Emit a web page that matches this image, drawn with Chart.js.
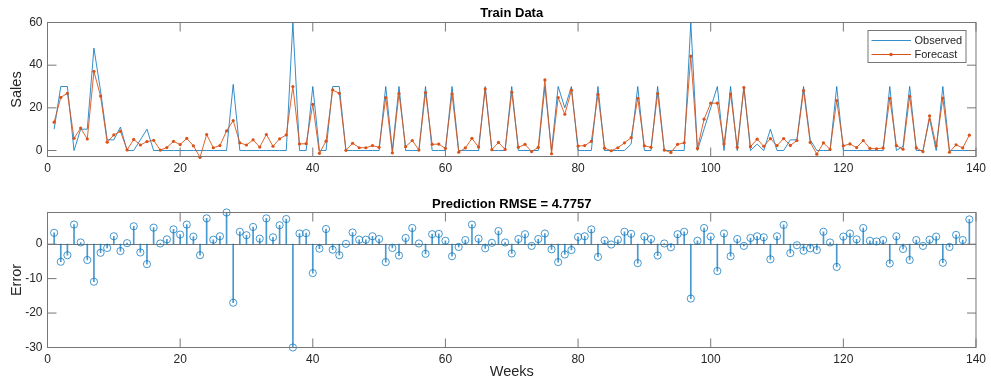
<!DOCTYPE html>
<html>
<head>
<meta charset="utf-8">
<script src="https://cdn.jsdelivr.net/npm/chart.js@4.4.1/dist/chart.umd.min.js"></script>
<style>
  html, body { margin: 0; padding: 0; background: #ffffff; }
  #wrap { position: relative; width: 991px; height: 385px; overflow: hidden; }
  .pane { position: absolute; left: 0; width: 991px; }
  #paneTop { top: 0; height: 185px; }
  #paneBottom { top: 185px; height: 200px; }
</style>
</head>
<body>
<div id="wrap">
  <div class="pane" id="paneTop"><canvas id="trainChart"></canvas></div>
  <div class="pane" id="paneBottom"><canvas id="errorChart"></canvas></div>
</div>
<script>
// ---- data ----
const weeks = Array.from({ length: 139 }, (_, i) => i + 1);

const observed = [
  10, 30, 30, 0, 10, 10, 48, 28, 5, 5,
  11, 0, 0, 5, 10, 0, 0, 0, 0, 0,
  0, 0, 0, 0, 0, 0, 0, 31, 0, 0,
  0, 0, 0, 0, 0, 0, 60, 0, 0, 30,
  0, 0, 30, 30, 0, 0, 0, 0, 0, 0,
  30, 0, 30, 0, 0, 0, 30, 0, 0, 0,
  30, 0, 0, 0, 0, 30, 0, 0, 0, 30,
  0, 0, 0, 0, 30, 0, 30, 20, 30, 0,
  0, 0, 30, 0, 0, 0, 0, 3, 30, 0,
  0, 30, 0, 0, 0, 0, 60, 0, 10, 20,
  30, 0, 30, 0, 30, 0, 3, 0, 10, 0,
  0, 5, 5, 30, 5, 0, 0, 0, 30, 0,
  0, 0, 0, 0, 0, 0, 30, 0, 2, 30,
  0, 0, 15, 0, 30, 0, 0, 0, 0
];

const forecast = [
  13.3, 24.9, 26.8, 5.7, 10.5, 5.4, 37.1, 25.5, 3.9, 7.3,
  9.0, 0.3, 5.2, 2.6, 4.2, 4.8, 0.2, 1.4, 4.3, 2.8,
  5.7, 2.2, -3.2, 7.5, 1.3, 2.3, 9.2, 14.0, 3.6, 2.6,
  5.0, 1.6, 7.5, 2.0, 5.5, 7.3, 30.0, 3.1, 3.2, 21.6,
  -1.3, 4.4, 28.4, 26.8, 0.1, 3.4, 1.3, 1.3, 2.3, 1.5,
  24.8, -1.1, 26.7, 1.8, 4.7, 0.2, 27.2, 2.9, 3.0, 1.0,
  26.5, -0.8, 1.2, 5.7, 1.6, 28.8, 0.4, 3.8, 0.5, 27.3,
  1.5, 2.9, -0.5, 1.5, 33.1, -1.5, 24.8, 17.0, 28.3, 2.1,
  2.3, 4.3, 26.3, 1.1, -0.1, 1.3, 3.6, 6.0, 24.5, 2.2,
  1.5, 26.7, 0.2, -0.9, 2.9, 3.6, 44.2, 1.0, 14.7, 22.2,
  22.2, 3.1, 26.5, 1.5, 29.5, 1.8, 5.3, 2.0, 5.6, 2.3,
  5.6, 2.4, 4.7, 28.1, 3.8, -1.7, 3.6, 0.5, 23.4, 2.2,
  3.1, 1.4, 4.7, 1.0, 0.8, 1.2, 24.4, 2.3, 0.6, 25.4,
  1.2, -0.5, 16.3, 2.2, 24.6, -0.8, 2.7, 1.2, 7.2
];

const errors = [
  3.3, -5.1, -3.2, 5.7, 0.5, -4.6, -10.9, -2.5, -1.1, 2.3,
  -2.0, 0.3, 5.2, -2.4, -5.8, 4.8, 0.2, 1.4, 4.3, 2.8,
  5.7, 2.2, -3.2, 7.5, 1.3, 2.3, 9.2, -17.0, 3.6, 2.6,
  5.0, 1.6, 7.5, 2.0, 5.5, 7.3, -30.0, 3.1, 3.2, -8.4,
  -1.3, 4.4, -1.6, -3.2, 0.1, 3.4, 1.3, 1.3, 2.3, 1.5,
  -5.2, -1.1, -3.3, 1.8, 4.7, 0.2, -2.8, 2.9, 3.0, 1.0,
  -3.5, -0.8, 1.2, 5.7, 1.6, -1.2, 0.4, 3.8, 0.5, -2.7,
  1.5, 2.9, -0.5, 1.5, 3.1, -1.5, -5.2, -3.0, -1.7, 2.1,
  2.3, 4.3, -3.7, 1.1, -0.1, 1.3, 3.6, 3.0, -5.5, 2.2,
  1.5, -3.3, 0.2, -0.9, 2.9, 3.6, -15.8, 1.0, 4.7, 2.2,
  -7.8, 3.1, -3.5, 1.5, -0.5, 1.8, 2.3, 2.0, -4.4, 2.3,
  5.6, -2.6, -0.3, -1.9, -1.2, -1.7, 3.6, 0.5, -6.6, 2.2,
  3.1, 1.4, 4.7, 1.0, 0.8, 1.2, -5.6, 2.3, -1.4, -4.6,
  1.2, -0.5, 1.3, 2.2, -5.4, -0.8, 2.7, 1.2, 7.2
];

const weekTicks = [0, 20, 40, 60, 80, 100, 120, 140];
const salesTicks = [0, 20, 40, 60];
const errorTicks = [-30, -20, -10, 0];

const seriesNames = ['Observed', 'Forecast'];
const trainTitle = 'Train Data';
const errorTitle = 'Prediction RMSE = 4.7757';

// ---- styling ----
const FONT = '"Liberation Sans", Arial, Helvetica, sans-serif';
const BLUE = '#0072BD';
const BLUE_SOFT = 'rgba(0,114,189,0.8)';
const STEM = 'rgba(0,114,189,0.72)';
const ORANGE = '#D95319';
const AXIS = '#777777';
const TEXT = '#262626';
const TICK_LEN = 9;

Chart.defaults.font.family = FONT;
Chart.defaults.color = TEXT;

// Axes box with inward tick marks on all four sides
const framePlugin = {
  id: 'frame',
  afterDatasetsDraw(chart) {
    const { ctx, chartArea: a, scales } = chart;
    ctx.save();
    ctx.strokeStyle = AXIS;
    ctx.lineWidth = 1;
    ctx.beginPath();
    scales.x.ticks.forEach(t => {
      const px = scales.x.getPixelForValue(t.value);
      ctx.moveTo(px, a.bottom); ctx.lineTo(px, a.bottom - TICK_LEN);
      ctx.moveTo(px, a.top); ctx.lineTo(px, a.top + TICK_LEN);
    });
    scales.y.ticks.forEach(t => {
      const py = scales.y.getPixelForValue(t.value);
      ctx.moveTo(a.left, py); ctx.lineTo(a.left + TICK_LEN, py);
      ctx.moveTo(a.right, py); ctx.lineTo(a.right - TICK_LEN, py);
    });
    ctx.stroke();
    ctx.strokeRect(a.left, a.top, a.right - a.left, a.bottom - a.top);
    ctx.restore();
  }
};

// Stem baseline at zero
const baselinePlugin = {
  id: 'baseline',
  beforeDatasetsDraw(chart, args, opts) {
    if (!opts || !opts.enabled) return;
    const { ctx, chartArea: a, scales } = chart;
    const py = Math.round(scales.y.getPixelForValue(0)) + 0.5;
    ctx.save();
    ctx.strokeStyle = AXIS;
    ctx.lineWidth = 1;
    ctx.beginPath();
    ctx.moveTo(a.left, py);
    ctx.lineTo(a.right, py);
    ctx.stroke();
    ctx.restore();
  }
};

// Axes title and optional legend box
const decorPlugin = {
  id: 'decor',
  afterDraw(chart, args, opts) {
    const { ctx, chartArea: a } = chart;
    ctx.save();
    ctx.fillStyle = '#000000';
    ctx.font = 'bold 13px ' + FONT;
    ctx.textAlign = 'center';
    ctx.textBaseline = 'alphabetic';
    ctx.fillText(opts.title, (a.left + a.right) / 2, opts.titleY);

    if (opts.legend) {
      const bx = a.right - 108, by = a.top + 8, bw = 98, bh = 32;
      ctx.fillStyle = '#ffffff';
      ctx.fillRect(bx, by, bw, bh);
      ctx.strokeStyle = AXIS;
      ctx.lineWidth = 1;
      ctx.strokeRect(bx, by, bw, bh);
      const rows = [
        { name: seriesNames[0], color: BLUE_SOFT, dot: false, y: by + 10 },
        { name: seriesNames[1], color: ORANGE, dot: true, y: by + 24 }
      ];
      ctx.font = '11px ' + FONT;
      ctx.textAlign = 'left';
      ctx.textBaseline = 'middle';
      rows.forEach(r => {
        ctx.strokeStyle = r.color;
        ctx.beginPath();
        ctx.moveTo(bx + 3.5, r.y);
        ctx.lineTo(bx + 43, r.y);
        ctx.stroke();
        if (r.dot) {
          ctx.fillStyle = r.color;
          ctx.beginPath();
          ctx.arc(bx + 23, r.y, 1.7, 0, Math.PI * 2);
          ctx.fill();
        }
        ctx.fillStyle = TEXT;
        ctx.fillText(r.name, bx + 46.5, r.y + 0.5);
      });
    }
    ctx.restore();
  }
};

function xAxis(height, withTitle) {
  return {
    type: 'linear',
    position: 'bottom',
    min: 0,
    max: 140,
    offset: false,
    afterBuildTicks: s => { s.ticks = weekTicks.map(v => ({ value: v })); },
    grid: { display: false, drawTicks: false },
    border: { display: false },
    ticks: { padding: 5, color: TEXT, font: { size: 12 }, maxRotation: 0, autoSkip: false },
    title: withTitle
      ? { display: true, text: 'Weeks', color: TEXT, font: { size: 14.5 }, padding: { top: 0, bottom: 4.3 } }
      : { display: false },
    afterFit: s => { s.height = height; }
  };
}

function yAxis(min, max, ticks, label) {
  return {
    type: 'linear',
    min: min,
    max: max,
    afterBuildTicks: s => { s.ticks = ticks.map(v => ({ value: v })); },
    grid: { display: false, drawTicks: false },
    border: { display: false },
    ticks: { padding: 5, color: TEXT, font: { size: 12 } },
    title: { display: true, text: label, color: TEXT, font: { size: 14.5 }, padding: { top: 8, bottom: 0 } },
    afterFit: s => { s.width = 47.5; }
  };
}

// ---- top: observed vs forecast ----
new Chart(document.getElementById('trainChart'), {
  type: 'line',
  data: {
    datasets: [
      {
        label: seriesNames[0],
        data: weeks.map((w, i) => ({ x: w, y: observed[i] })),
        borderColor: BLUE_SOFT,
        borderWidth: 1,
        pointRadius: 0,
        tension: 0,
        order: 2
      },
      {
        label: seriesNames[1],
        data: weeks.map((w, i) => ({ x: w, y: forecast[i] })),
        borderColor: ORANGE,
        borderWidth: 0.9,
        pointRadius: 1.6,
        pointBackgroundColor: ORANGE,
        pointBorderWidth: 0,
        tension: 0,
        clip: false,
        order: 1
      }
    ]
  },
  options: {
    responsive: true,
    maintainAspectRatio: false,
    animation: false,
    layout: { padding: { top: 22.5, right: 12.5, left: 0, bottom: 0 } },
    scales: {
      x: xAxis(28.5, false),
      y: yAxis(-2.8, 60, salesTicks, 'Sales')
    },
    plugins: {
      legend: { display: false },
      tooltip: { enabled: false },
      decor: { title: trainTitle, titleY: 17, legend: true }
    }
  },
  plugins: [framePlugin, decorPlugin]
});

// ---- bottom: forecast error stems ----
new Chart(document.getElementById('errorChart'), {
  type: 'scatter',
  data: {
    datasets: [
      {
        type: 'bar',
        label: 'stems',
        data: weeks.map((w, i) => ({ x: w, y: errors[i] })),
        backgroundColor: STEM,
        borderWidth: 0,
        barThickness: 1,
        order: 2
      },
      {
        type: 'scatter',
        label: 'Error',
        data: weeks.map((w, i) => ({ x: w, y: errors[i] })),
        showLine: false,
        pointStyle: 'circle',
        pointRadius: 3.6,
        pointBackgroundColor: 'rgba(0,0,0,0)',
        pointBorderColor: STEM,
        pointBorderWidth: 1,
        clip: false,
        order: 1
      }
    ]
  },
  options: {
    responsive: true,
    maintainAspectRatio: false,
    animation: false,
    layout: { padding: { top: 27.5, right: 12.5, left: 0, bottom: 0 } },
    scales: {
      x: xAxis(37.5, true),
      y: yAxis(-30, 9.2, errorTicks, 'Error')
    },
    plugins: {
      legend: { display: false },
      tooltip: { enabled: false },
      baseline: { enabled: true },
      decor: { title: errorTitle, titleY: 23, legend: false }
    }
  },
  plugins: [framePlugin, baselinePlugin, decorPlugin]
});
</script>
</body>
</html>
